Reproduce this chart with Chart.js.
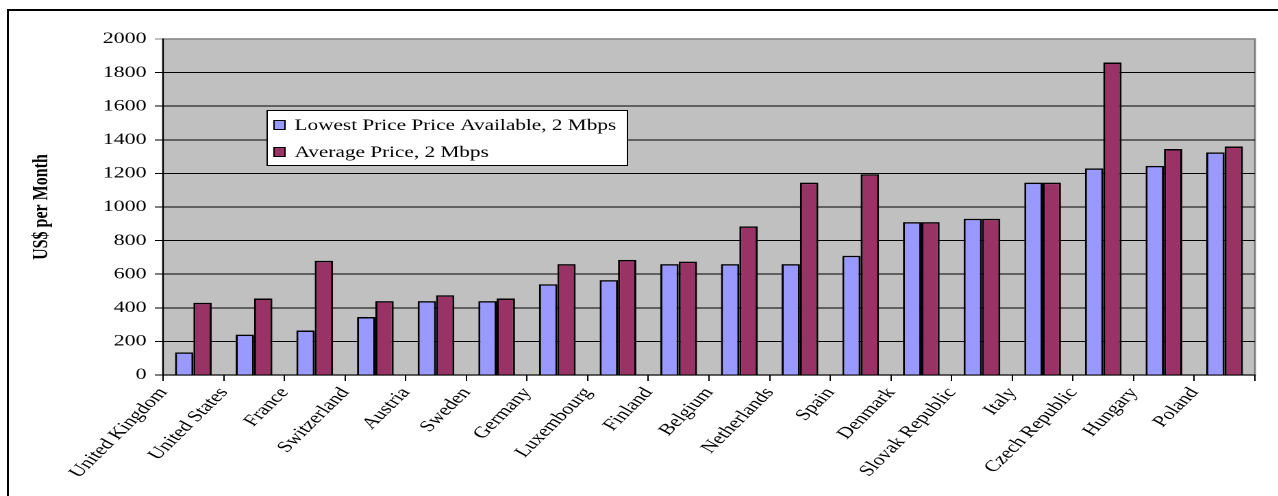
<!DOCTYPE html>
<html>
<head>
<meta charset="utf-8">
<script src="https://cdn.jsdelivr.net/npm/chart.js@4"></script>
<style>
  html, body { margin: 0; padding: 0; background: #fff; overflow: hidden; }
  #frame {
    position: absolute; left: 7px; top: 9px; width: 1400px; height: 600px;
    border-left: 2px solid #000; border-top: 2px solid #000;
  }
  /* chart is drawn narrow and widened, so the serif text comes out broad */
  #wrap {
    position: absolute; left: 0; top: 0; width: 933px; height: 496px;
    transform: scaleX(1.37); transform-origin: 0 0;
  }
</style>
</head>
<body>
<div id="frame"></div>
<div id="wrap"><canvas id="priceChart" width="933" height="496" style="width:933px;height:496px"></canvas></div>
<script>
const countries = ['United Kingdom', 'United States', 'France', 'Switzerland', 'Austria', 'Sweden',
  'Germany', 'Luxembourg', 'Finland', 'Belgium', 'Netherlands', 'Spain', 'Denmark',
  'Slovak Republic', 'Italy', 'Czech Republic', 'Hungary', 'Poland'];

const lowestPrice = [135, 240, 265, 345, 440, 440, 540, 565, 660, 660, 660, 710, 910, 930, 1145, 1230, 1245, 1325];
const averagePrice = [430, 455, 680, 440, 475, 455, 660, 685, 675, 885, 1145, 1195, 910, 930, 1145, 1860, 1345, 1360];

const seriesNames = ['Lowest Price Price Available, 2 Mbps', 'Average Price, 2 Mbps'];
const seriesColors = ['#9999ff', '#993366'];

const yMin = 0, yMax = 2000, yStep = 200;

const serif = '"Liberation Serif", "Times New Roman", serif';

// grey plot area with a darker grey outline
const plotBackground = {
  id: 'plotBackground',
  beforeDraw(chart) {
    const { ctx, chartArea: a } = chart;
    ctx.save();
    ctx.fillStyle = '#c0c0c0';
    ctx.fillRect(a.left, a.top, a.right - a.left, a.bottom - a.top);
    ctx.strokeStyle = '#808080';
    ctx.lineWidth = 1.5;
    ctx.strokeRect(a.left, a.top, a.right - a.left, a.bottom - a.top);
    ctx.restore();
  }
};

// boxed legend sitting inside the plot
const boxLegend = {
  id: 'boxLegend',
  afterDraw(chart) {
    const { ctx } = chart;
    const box = { x: 195, y: 110.5, w: 263, h: 55 };
    const rows = [125, 152];
    ctx.save();
    ctx.fillStyle = '#fff';
    ctx.fillRect(box.x, box.y, box.w, box.h);
    ctx.strokeStyle = '#000';
    ctx.lineWidth = 1;
    ctx.strokeRect(box.x, box.y, box.w, box.h);
    ctx.font = '15.5px ' + serif;
    ctx.textBaseline = 'middle';
    chart.data.datasets.forEach((ds, i) => {
      const cy = rows[i];
      ctx.fillStyle = ds.backgroundColor;
      ctx.fillRect(200, cy - 4.5, 8, 9);
      ctx.strokeRect(200, cy - 4.5, 8, 9);
      ctx.fillStyle = '#000';
      ctx.fillText(ds.label, 215, cy + 1);
    });
    ctx.restore();
  }
};

new Chart(document.getElementById('priceChart'), {
  type: 'bar',
  data: {
    labels: countries,
    datasets: [
      {
        label: seriesNames[0],
        data: lowestPrice,
        backgroundColor: seriesColors[0],
        borderColor: '#000',
        borderWidth: 1.5,
        categoryPercentage: 0.605,
        barPercentage: 1.0
      },
      {
        label: seriesNames[1],
        data: averagePrice,
        backgroundColor: seriesColors[1],
        borderColor: '#000',
        borderWidth: 1.5,
        categoryPercentage: 0.605,
        barPercentage: 1.0
      }
    ]
  },
  options: {
    responsive: false,
    animation: false,
    devicePixelRatio: 2,
    layout: { padding: { left: 0, top: 39, right: 17, bottom: 0 } },
    plugins: {
      legend: { display: false },
      tooltip: { enabled: false }
    },
    scales: {
      x: {
        offset: true,
        afterFit(scale) { scale.height = 121; },
        grid: { offset: true, drawOnChartArea: false, tickLength: 6, color: '#000' },
        border: { color: '#000', width: 1 },
        ticks: {
          autoSkip: false,
          maxRotation: 53,
          minRotation: 53,
          labelOffset: -22,
          padding: 3,
          color: '#000',
          font: { family: serif, size: 16 }
        }
      },
      y: {
        min: yMin,
        max: yMax,
        afterFit(scale) { scale.width = 119; },
        grid: {
          color: ctx => (ctx.tick && ctx.tick.value === yMax ? '#808080' : '#000'),
          tickLength: 6,
          lineWidth: 1
        },
        border: { color: '#000', width: 1 },
        ticks: {
          stepSize: yStep,
          padding: 6,
          color: '#000',
          font: { family: serif, size: 16 },
          callback: value => String(value)
        },
        title: {
          display: true,
          text: 'US$ per Month',
          color: '#000',
          padding: { top: 21, bottom: 0 },
          font: { family: serif, size: 16, weight: 'bold' }
        }
      }
    }
  },
  plugins: [plotBackground, boxLegend]
});
</script>
</body>
</html>
